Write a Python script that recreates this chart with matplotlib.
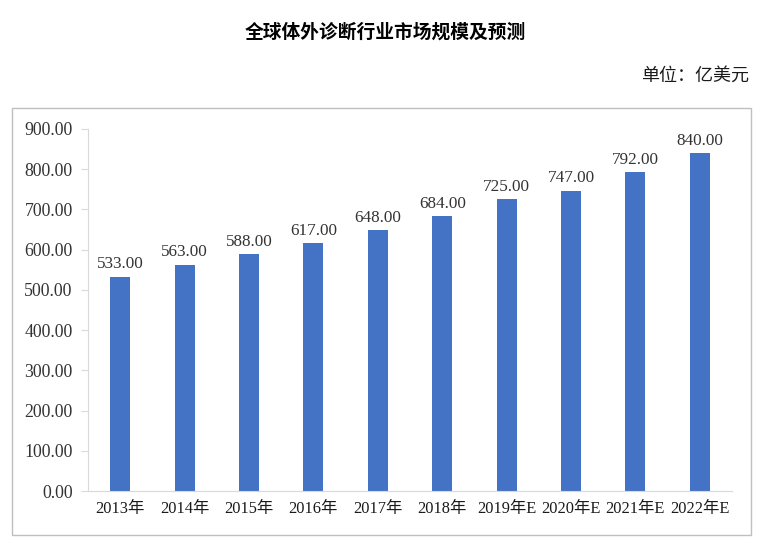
import matplotlib.pyplot as plt
from matplotlib.patches import Rectangle

plt.rcParams['font.family'] = ['Liberation Serif', 'Noto Sans CJK SC', 'DejaVu Sans']

# data
years = ["2013年", "2014年", "2015年", "2016年", "2017年", "2018年",
         "2019年E", "2020年E", "2021年E", "2022年E"]
market_size = [533, 563, 588, 617, 648, 684, 725, 747, 792, 840]
y_ticks = [0, 100, 200, 300, 400, 500, 600, 700, 800, 900]

fig = plt.figure(figsize=(7.7, 5.48), dpi=100)

# grey frame around the chart area
fig.patches.append(Rectangle((0.0156, 0.0237), 0.9597, 0.779, transform=fig.transFigure,
                             fill=False, edgecolor='#BFBFBF', linewidth=1.0))

ax = fig.add_axes([0.1143, 0.104, 0.8364, 0.6606])
x = range(len(years))
bars = ax.bar(x, market_size, width=0.31, color='#4472C4')
ax.bar_label(bars, labels=[f"{v:.2f}" for v in market_size], padding=3,
             fontsize=12.3, color='#333333')

ax.set_xlim(-0.5, len(years) - 0.5)
ax.set_ylim(0, 900)
ax.set_yticks(y_ticks)
ax.set_yticklabels([f"{v:.2f}" for v in y_ticks])
ax.set_xticks(list(x))
ax.set_xticklabels(years)
ax.tick_params(axis='y', length=5, color='#D9D9D9', labelsize=12.8, labelcolor='#333333', pad=6)
ax.tick_params(axis='x', length=0, labelsize=11.8, labelcolor='#1a1a1a', pad=7)

for s in ['top', 'right']:
    ax.spines[s].set_visible(False)
for s in ['left', 'bottom']:
    ax.spines[s].set_color('#D9D9D9')

fig.text(0.5, 0.941, "全球体外诊断行业市场规模及预测", ha='center', va='center',
         fontsize=13.5, fontweight='bold', family=['Noto Sans CJK SC', 'DejaVu Sans'])
fig.text(0.973, 0.861, "单位：亿美元", ha='right', va='center', fontsize=13,
         family=['Noto Sans CJK SC', 'DejaVu Sans'], color='#1a1a1a')

fig.savefig("out.png", dpi=100)
